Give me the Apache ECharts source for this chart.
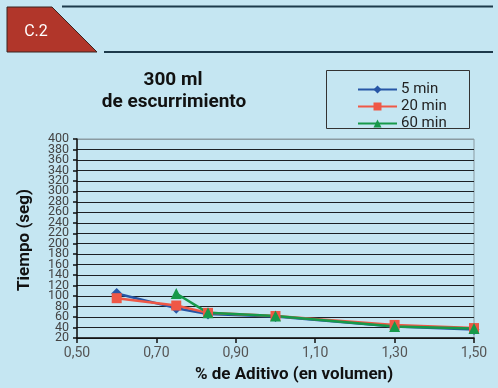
<!DOCTYPE html>
<html><head><meta charset="utf-8">
<script src="https://cdn.jsdelivr.net/npm/echarts@6/dist/echarts.min.js"></script>
<style>html,body{margin:0;padding:0;background:#c5e6f2;}#c{width:498px;height:388px;}</style>
</head><body><div id="c"></div>
<script>
const xValues = [0.6, 0.75, 0.83, 1.0, 1.3, 1.5];
const min5 = [105, 77, 66, 61, 42, 36];
const min20 = [96, 82, 68, 62, 45, 39];
const min60 = [null, 105, 68, 62, 42, 38];
const seriesNames = ['5 min', '20 min', '60 min'];
const xTicks = [0.5, 0.7, 0.9, 1.1, 1.3, 1.5];
const yTicksA = [20, 60, 100, 140, 180, 220, 260, 300, 340, 380];
const yTicksB = [40, 80, 120, 160, 200, 240, 280, 320, 360, 400];
const titleLines = ['300 ml', 'de escurrimiento'];
const xTitle = '% de Aditivo (en volumen)';
const yTitle = 'Tiempo (seg)';
const badge = 'C.2';

const FONT = "Roboto, 'Liberation Sans', sans-serif";
const colors = ['#2756a6', '#ef5846', '#17994a'];
const symbols = ['diamond', 'rect', 'triangle'];
const sizes = [11, 10, 11];
const datasets = [min5, min20, min60];

const gridLineColors = [];
for (let v = 20; v <= 400; v += 20) gridLineColors.push(v === 400 ? '#8a9ba2' : '#1c2024');

const yLabelStyle = {fontFamily: FONT, fontSize: 12.5, color: '#444', margin: 8, lineHeight: 10};

const chart = echarts.init(document.getElementById('c'), null, {renderer: 'canvas'});
chart.setOption({
  backgroundColor: '#c5e6f2',
  animation: false,
  color: colors,
  grid: {left: 77, right: 24, top: 139, bottom: 50, show: true, borderColor: '#8a9ba2', borderWidth: 1, backgroundColor: 'transparent'},
  legend: {
    orient: 'vertical', left: 352, top: 77, itemWidth: 39, itemHeight: 10, itemGap: 2,
    data: seriesNames,
    textStyle: {fontFamily: FONT, fontSize: 15, lineHeight: 14, color: '#222', padding: [0,0,0,-1]}
  },
  xAxis: {
    type: 'value', min: 0.5, max: 1.5, interval: 0.1,
    axisLine: {lineStyle: {color: '#111', width: 1.5}},
    axisTick: {show: true, length: 5, lineStyle: {color: '#111', width: 1.5}, customValues: xTicks},
    axisLabel: {customValues: xTicks, formatter: v => v.toFixed(2).replace('.', ','), fontFamily: FONT, fontSize: 14, color: '#555', margin: 8},
    splitLine: {show: false}
  },
  yAxis: [{
    type: 'value', min: 20, max: 400, interval: 20, position: 'left',
    axisLine: {show: true, lineStyle: {color: '#111', width: 1.5}},
    axisTick: {show: true, length: 4, lineStyle: {color: '#111', width: 1.5}},
    axisLabel: Object.assign({customValues: yTicksA}, yLabelStyle),
    splitLine: {show: true, lineStyle: {color: gridLineColors, width: 1}}
  }, {
    type: 'value', min: 20, max: 400, interval: 20, position: 'left', offset: 0,
    axisLine: {show: false}, axisTick: {show: false}, splitLine: {show: false},
    axisLabel: Object.assign({customValues: yTicksB}, yLabelStyle)
  }],
  series: datasets.map((d, i) => ({
    name: seriesNames[i], type: 'line', yAxisIndex: 0,
    data: xValues.map((x, j) => [x, d[j]]).filter(p => p[1] !== null),
    symbol: symbols[i], symbolSize: sizes[i],
    lineStyle: {width: 2.5, color: colors[i]},
    itemStyle: {color: colors[i]}
  })),
  graphic: [
    {type: 'polygon', shape: {points: [[7, 7], [52, 7], [97, 52], [7, 52]]}, style: {fill: '#b1362a', stroke: '#3b2420', lineWidth: 1}},
    {type: 'text', x: 36, y: 32, style: {text: badge, align: 'center', verticalAlign: 'middle', fill: '#fff', font: "16px " + FONT}},
    {type: 'line', shape: {x1: 62, y1: 6.5, x2: 493, y2: 6.5}, style: {stroke: '#1d3a4b', lineWidth: 2}},
    {type: 'line', shape: {x1: 104, y1: 52, x2: 493, y2: 52}, style: {stroke: '#1d3a4b', lineWidth: 2}},
    {type: 'rect', shape: {x: 326.5, y: 70.5, width: 143, height: 58}, style: {fill: 'none', stroke: '#333', lineWidth: 1}},
    {type: 'text', x: 173, y: 80, style: {text: titleLines[0], align: 'center', verticalAlign: 'middle', fill: '#111', font: "bold 19px " + FONT}},
    {type: 'text', x: 174, y: 102, style: {text: titleLines[1], align: 'center', verticalAlign: 'middle', fill: '#111', font: "bold 19px " + FONT}},
    {type: 'text', x: 294, y: 375, style: {text: xTitle, align: 'center', verticalAlign: 'middle', fill: '#111', font: "bold 17px " + FONT}},
    {type: 'text', x: 25, y: 240, rotation: Math.PI / 2, style: {text: yTitle, align: 'center', verticalAlign: 'middle', fill: '#111', font: "bold 17px " + FONT}}
  ]
});
</script></body></html>
